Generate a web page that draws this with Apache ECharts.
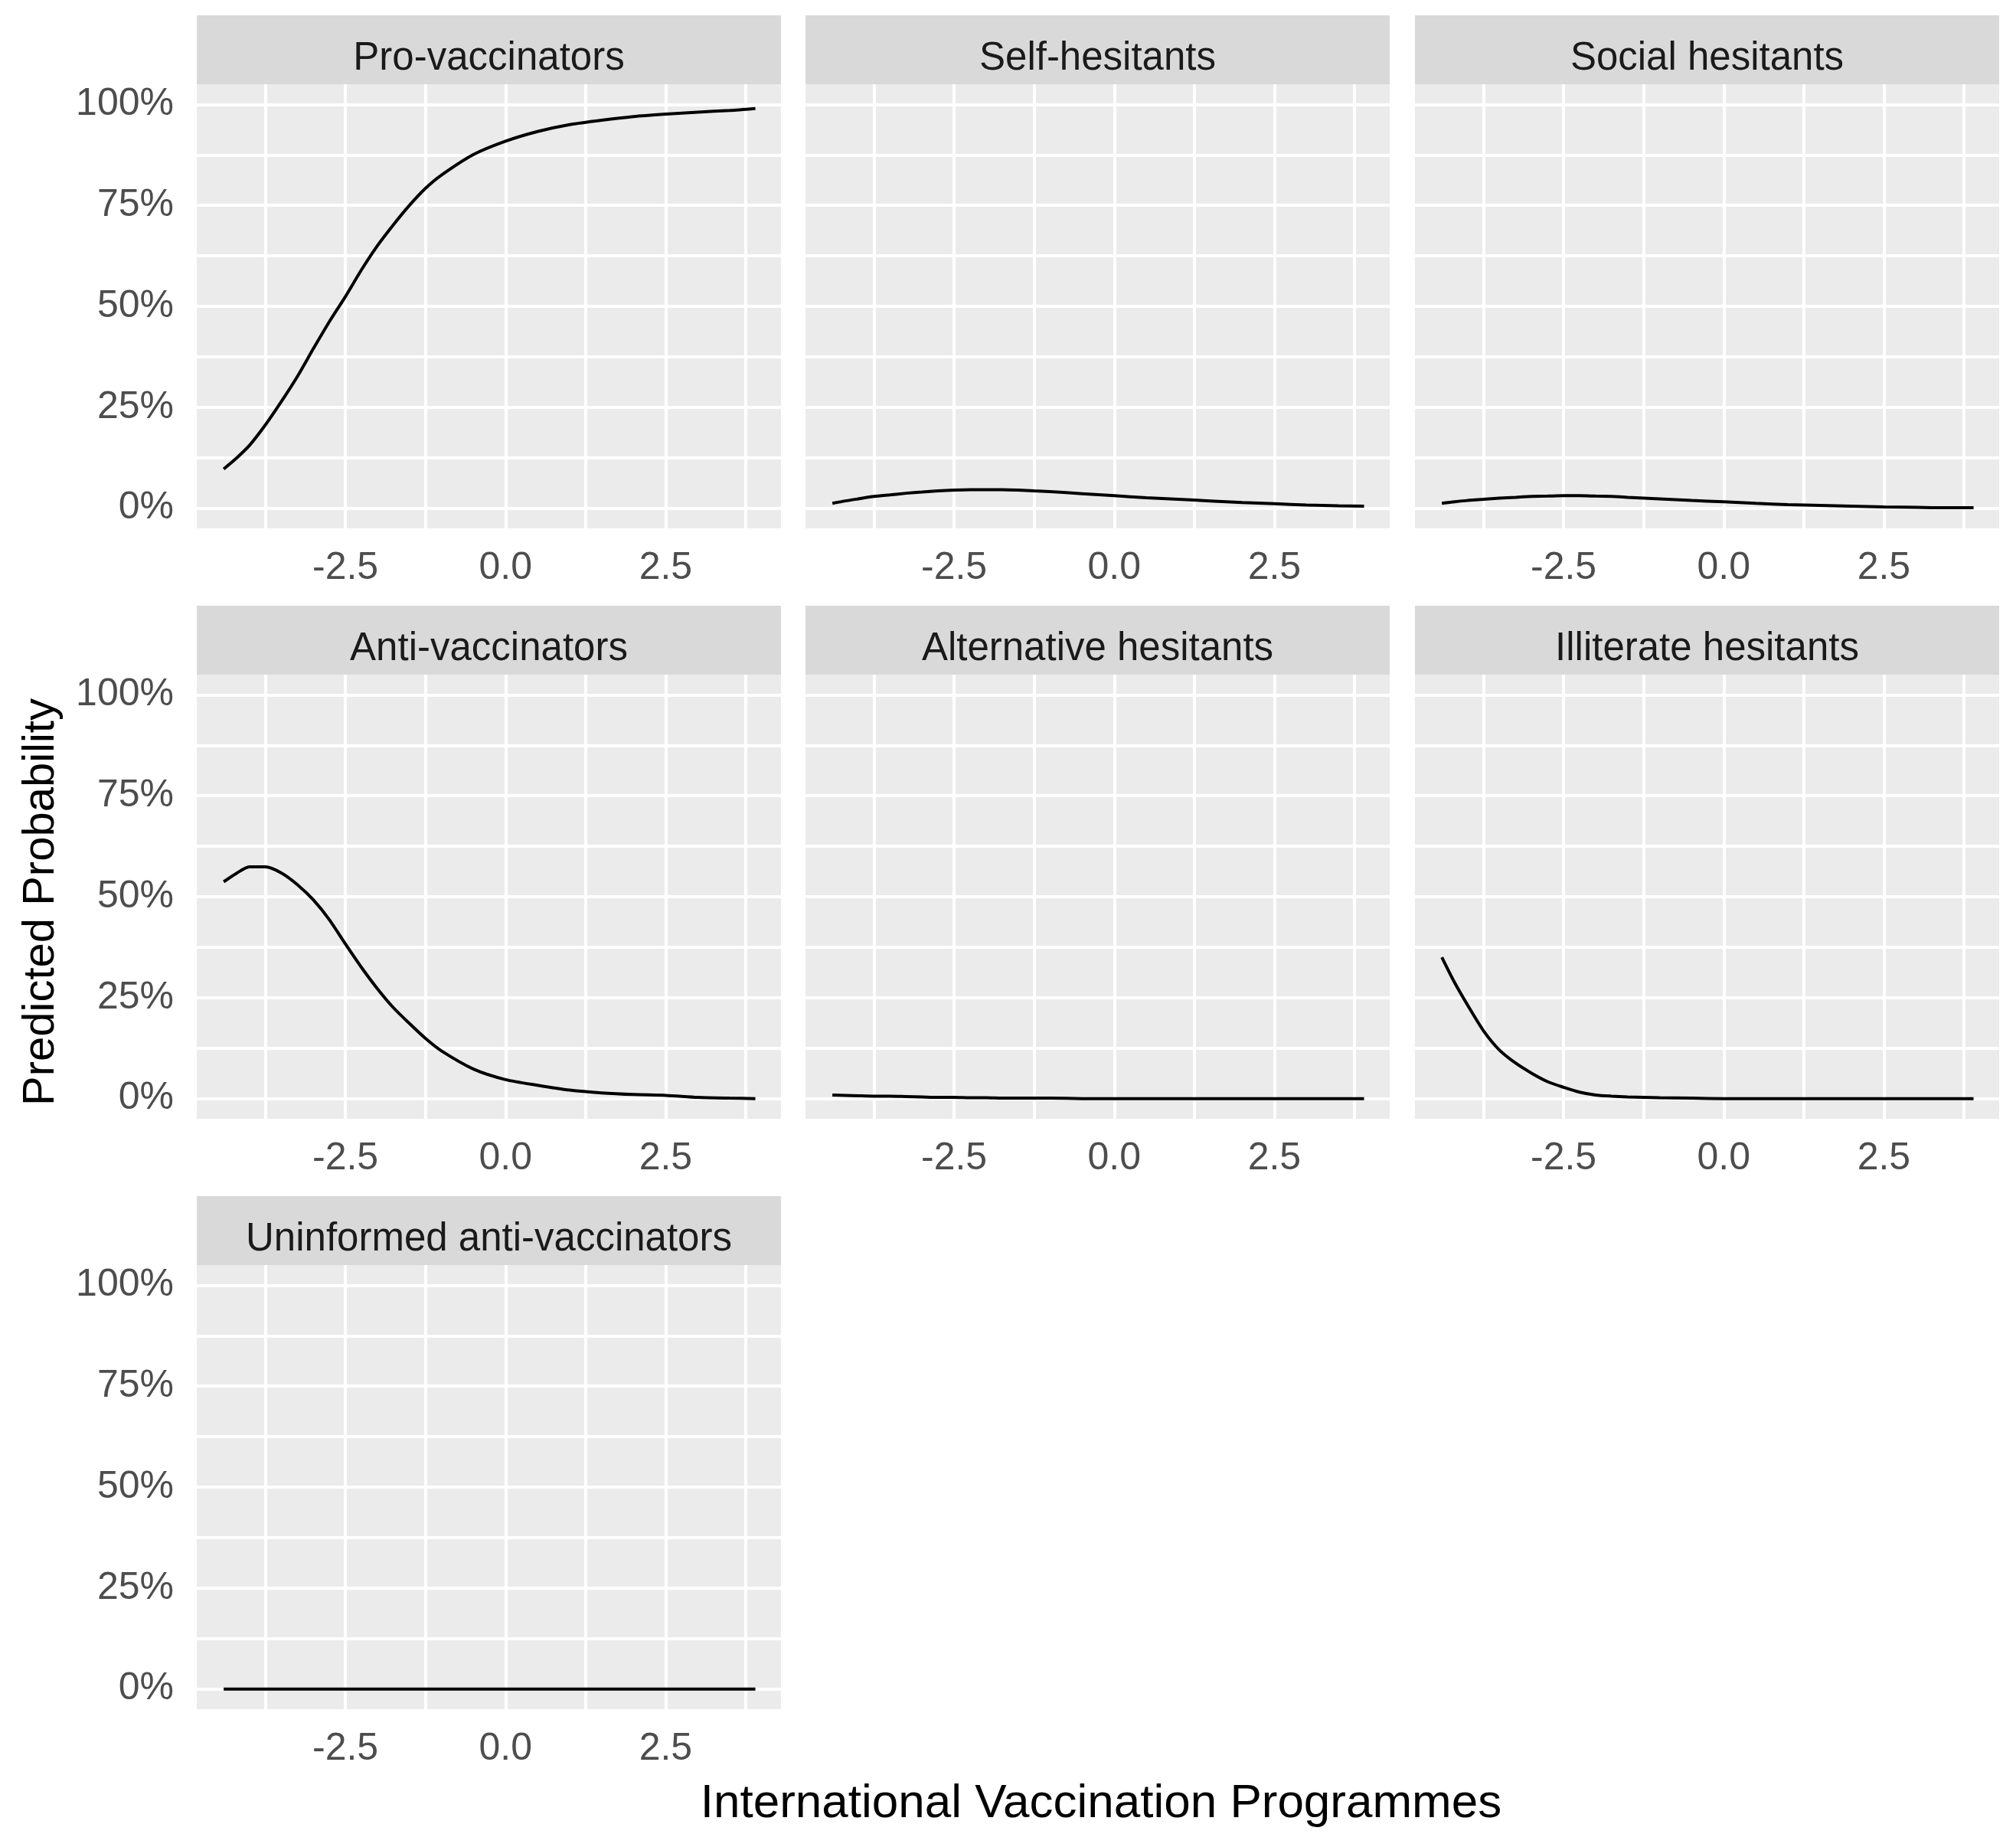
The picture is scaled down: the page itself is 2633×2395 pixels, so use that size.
<!DOCTYPE html>
<html>
<head>
<meta charset="utf-8">
<title>Predicted Probability</title>
<script src="https://cdn.jsdelivr.net/npm/echarts@6/dist/echarts.min.js"></script>
<style>html,body{margin:0;padding:0;background:#fff;}</style>
</head>
<body>
<div id="main" style="width:2633px;height:2395px;"></div>
<script>
// x positions (International Vaccination Programmes)
var xValues = [-4.4, -4.2, -4.0, -3.75, -3.5, -3.25, -3.0, -2.75, -2.5, -2.25, -2.0, -1.75, -1.5, -1.25, -1.0, -0.5, 0, 0.5, 1.0, 1.5, 2.0, 2.5, 3.0, 3.5, 3.9];

// predicted probability, in %
var proVaccinators = [9.7, 12.4, 15.5, 20.6, 26.4, 32.6, 39.5, 46.2, 52.4, 59.0, 65.0, 70.2, 75.0, 79.2, 82.5, 87.6, 90.9, 93.3, 95.0, 96.1, 97.0, 97.6, 98.1, 98.5, 99.0];
var selfHesitants = [1.2, 1.8, 2.3, 2.9, 3.3, 3.7, 4.0, 4.3, 4.5, 4.6, 4.6, 4.6, 4.5, 4.3, 4.1, 3.6, 3.1, 2.6, 2.2, 1.8, 1.4, 1.1, 0.8, 0.6, 0.5];
var socialHesitants = [1.2, 1.6, 1.9, 2.2, 2.5, 2.7, 2.9, 3.0, 3.1, 3.1, 3.0, 2.9, 2.7, 2.5, 2.3, 1.9, 1.6, 1.2, 0.9, 0.7, 0.5, 0.3, 0.2, 0.1, 0.1];
var antiVaccinators = [53.7, 55.8, 57.4, 57.4, 55.9, 53.0, 49.2, 44.3, 38.3, 32.5, 27.2, 22.5, 18.6, 14.9, 11.8, 7.3, 4.7, 3.3, 2.1, 1.4, 1.0, 0.8, 0.3, 0.1, 0.0];
var alternativeHesitants = [0.9, 0.8, 0.7, 0.6, 0.6, 0.5, 0.4, 0.3, 0.3, 0.2, 0.2, 0.1, 0.1, 0.1, 0.1, 0, 0, 0, 0, 0, 0, 0, 0, 0, 0];
var illiterateHesitants = [35.0, 28.7, 23.2, 16.8, 12.0, 8.8, 6.3, 4.2, 2.8, 1.6, 0.9, 0.6, 0.4, 0.3, 0.2, 0.1, 0, 0, 0, 0, 0, 0, 0, 0, 0];
var uninformedAntiVaccinators = [0, 0, 0, 0, 0, 0, 0, 0, 0, 0, 0, 0, 0, 0, 0, 0, 0, 0, 0, 0, 0, 0, 0, 0, 0];

var panelNames = ['Pro-vaccinators', 'Self-hesitants', 'Social hesitants', 'Anti-vaccinators',
    'Alternative hesitants', 'Illiterate hesitants', 'Uninformed anti-vaccinators'];
var panelData = [proVaccinators, selfHesitants, socialHesitants, antiVaccinators,
    alternativeHesitants, illiterateHesitants, uninformedAntiVaccinators];

var xTicks = [-2.5, 0, 2.5];
var xMinor = [-3.75, -1.25, 1.25, 3.75];
var yTicks = [0, 25, 50, 75, 100];
var yMinor = [12.5, 37.5, 62.5, 87.5];

// layout
var colLeft = [257, 1052, 1848];
var rowTop = [110, 881, 1652];
var panelW = 763, panelH = 580, stripH = 90;
var font = "'Liberation Sans', Arial, sans-serif";

var grids = [], xAxes = [], yAxes = [], series = [], graphics = [];

panelNames.forEach(function (name, i) {
    var col = i % 3;
    var left = colLeft[col], top = rowTop[Math.floor(i / 3)];
    grids.push({
        left: left, top: top, width: panelW, height: panelH,
        show: true, backgroundColor: '#EBEBEB', borderWidth: 0
    });
    xAxes.push({
        gridIndex: i, type: 'value', min: -4.82, max: 4.30,
        axisLine: {show: false},
        axisTick: {show: true, customValues: xTicks, length: 13, lineStyle: {color: '#333333', width: 4}},
        axisLabel: {customValues: xTicks, margin: 27, color: '#4D4D4D', fontSize: 50, fontFamily: font,
            formatter: function (v) { return v.toFixed(1); }},
        splitLine: {show: false}
    });
    // only the left column carries the y scale, as in the facet plot
    yAxes.push({
        gridIndex: i, type: 'value', min: -5, max: 105,
        axisLine: {show: false},
        axisTick: {show: col === 0, customValues: yTicks, length: 14, lineStyle: {color: '#333333', width: 4}},
        axisLabel: {show: col === 0, customValues: yTicks, margin: 30, color: '#4D4D4D', fontSize: 50, fontFamily: font,
            formatter: function (v) { return v + '%'; }},
        splitLine: {show: false}
    });
    var grid = [];
    xTicks.concat(xMinor).forEach(function (v) { grid.push({xAxis: v}); });
    yTicks.concat(yMinor).forEach(function (v) { grid.push({yAxis: v}); });
    series.push({
        name: name, type: 'line', xAxisIndex: i, yAxisIndex: i, z: 3,
        showSymbol: false, silent: true, smooth: 0.25,
        lineStyle: {color: '#000000', width: 4},
        data: xValues.map(function (x, k) { return [x, panelData[i][k]]; }),
        markLine: {
            silent: true, symbol: 'none', z: 1, animation: false,
            label: {show: false},
            lineStyle: {color: '#FFFFFF', width: 4, type: 'solid'},
            emphasis: {disabled: true},
            data: grid
        }
    });
    graphics.push({
        type: 'rect', silent: true,
        shape: {x: left, y: top - stripH, width: panelW, height: stripH},
        style: {fill: '#D9D9D9'}
    });
    graphics.push({
        type: 'text', silent: true, x: left + panelW / 2, y: top - stripH + 57,
        style: {text: name, fill: '#1A1A1A', fontSize: 51, fontFamily: font, align: 'center', verticalAlign: 'middle'}
    });
});

graphics.push({
    type: 'text', silent: true, x: 1438, y: 2356,
    style: {text: 'International Vaccination Programmes', fill: '#000000', fontSize: 62, fontFamily: font,
        align: 'center', verticalAlign: 'middle'}
});
graphics.push({
    type: 'text', silent: true, x: 54, y: 1178, rotation: Math.PI / 2,
    style: {text: 'Predicted Probability', fill: '#000000', fontSize: 58, fontFamily: font,
        align: 'center', verticalAlign: 'middle'}
});

var myChart = echarts.init(document.getElementById('main'));
myChart.setOption({
    animation: false,
    backgroundColor: '#FFFFFF',
    grid: grids,
    xAxis: xAxes,
    yAxis: yAxes,
    series: series,
    graphic: graphics
});
</script>
</body>
</html>
